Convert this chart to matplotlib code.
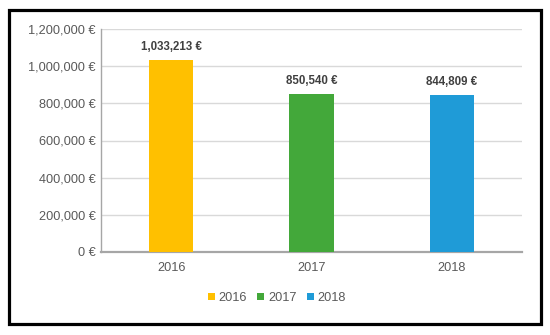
import matplotlib
matplotlib.use("Agg")
import matplotlib.pyplot as plt
from matplotlib.patches import Rectangle, Patch
from matplotlib.ticker import FuncFormatter

plt.rcParams['font.family'] = ['Liberation Sans', 'DejaVu Sans']

categories = ["2016", "2017", "2018"]
values = [1033213, 850540, 844809]
colors = ["#FFC000", "#43A83A", "#1F9BD7"]
yticks = [0, 200000, 400000, 600000, 800000, 1000000, 1200000]

W, H = 550, 335
fig = plt.figure(figsize=(W / 100, H / 100), dpi=100)
ax = fig.add_axes([101 / W, (H - 252) / H, 421 / W, (252 - 29) / H])

x = list(range(len(categories)))
bars = ax.bar(x, values, width=0.315, color=colors, zorder=3)
ax.set_xlim(-0.5, 2.5)
ax.set_ylim(0, 1200000)
ax.set_yticks(yticks)
ax.yaxis.set_major_formatter(FuncFormatter(lambda v, p: f"{int(v):,} €"))
ax.set_xticks(x)
ax.set_xticklabels(categories)

ax.grid(axis='y', color='#D9D9D9', linewidth=1, zorder=0)
for s in ['top', 'right']:
    ax.spines[s].set_visible(False)
ax.spines['left'].set_color('#A6A6A6')
ax.spines['left'].set_linewidth(1)
ax.spines['bottom'].set_color('#A6A6A6')
ax.spines['bottom'].set_linewidth(1.6)
ax.tick_params(axis='both', length=0, labelsize=9.2, colors='#595959', labelcolor='#595959')
ax.tick_params(axis='y', pad=4)
ax.tick_params(axis='x', pad=7)

for xi, v in zip(x, values):
    ax.annotate(f"{v:,} €", (xi, v), xytext=(0, 5), textcoords='offset points',
                ha='center', va='bottom', fontsize=8.3, fontweight='bold', color='#404040')

handles = [Patch(facecolor=c, edgecolor='none', label=l) for c, l in zip(colors, categories)]
fig.legend(handles=handles, loc='center', bbox_to_anchor=(277 / W, (H - 298) / H), ncol=3,
           frameon=False, fontsize=9.2, handlelength=0.55, handleheight=0.55,
           handletextpad=0.3, columnspacing=0.8, labelcolor='#595959')

fig.patches.append(Rectangle((8.5 / W, (H - 324) / H), (541 - 8.5) / W, (324 - 9.5) / H,
                             transform=fig.transFigure, fill=False, edgecolor='black',
                             linewidth=2.3, zorder=10))

fig.savefig("out.png", dpi=100)
